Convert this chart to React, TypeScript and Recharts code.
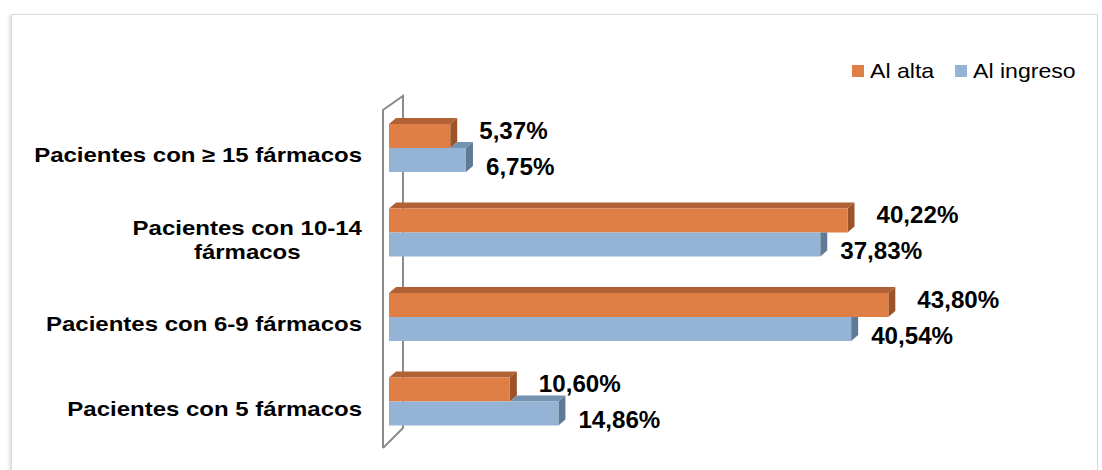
import { BarChart, Bar, XAxis, YAxis, LabelList } from 'recharts';

const categories = [
  'Pacientes con ≥ 15 fármacos',
  'Pacientes con 10-14 fármacos',
  'Pacientes con 6-9 fármacos',
  'Pacientes con 5 fármacos',
];
const alAlta = [5.37, 40.22, 43.8, 10.6];
const alIngreso = [6.75, 37.83, 40.54, 14.86];

const ALTA = { front: '#E07F45', top: '#B06236', side: '#9D5328' };
const INGRESO = { front: '#95B4D5', top: '#7393B0', side: '#5F7A94' };

const data = categories.map((name, i) => ({ name, alta: alAlta[i], ingreso: alIngreso[i] }));

const FONT = '"Liberation Sans", Arial, sans-serif';
const DX = 7;
const DY = 6;

const fmt = (v: number) => v.toFixed(2).replace('.', ',') + '%';

let ctx: CanvasRenderingContext2D | null = null;
function measure(text: string) {
  if (!ctx) ctx = document.createElement('canvas').getContext('2d');
  if (!ctx) return text.length * 12;
  ctx.font = `bold 20px ${FONT}`;
  return ctx.measureText(text).width * 1.2;
}

function wrap(text: string, max: number) {
  const words = text.split(' ');
  const lines: string[] = [];
  let cur = '';
  words.forEach(w => {
    const next = cur ? cur + ' ' + w : w;
    if (cur && measure(next) > max) {
      lines.push(cur);
      cur = w;
    } else cur = next;
  });
  if (cur) lines.push(cur);
  return lines;
}

function CategoryTick(props: any) {
  const { x, y, payload } = props;
  const lines = wrap(payload.value, 335);
  const cy = y + 7;
  if (lines.length === 1) {
    return (
      <g transform={`translate(${x},${cy}) scale(1.2,1)`}>
        <text textAnchor="end" dominantBaseline="central" fontFamily={FONT} fontWeight="bold" fontSize={20} fill="#000">
          {lines[0]}
        </text>
      </g>
    );
  }
  const w = Math.max(...lines.map(measure));
  const lh = 24;
  return (
    <g transform={`translate(${x - w / 2},${cy - ((lines.length - 1) * lh) / 2}) scale(1.2,1)`}>
      <text textAnchor="middle" dominantBaseline="central" fontFamily={FONT} fontWeight="bold" fontSize={20} fill="#000">
        {lines.map((l, i) => (
          <tspan key={i} x={0} y={i * lh}>{l}</tspan>
        ))}
      </text>
    </g>
  );
}

function AltaBar(p: any) {
  const { x, y, width: w, height: h } = p;
  return (
    <g>
      <polygon points={`${x},${y} ${x + DX},${y - DY} ${x + w + DX},${y - DY} ${x + w},${y}`} fill={ALTA.top} />
      <polygon points={`${x + w},${y} ${x + w + DX},${y - DY} ${x + w + DX},${y + h - DY} ${x + w},${y + h}`} fill={ALTA.side} />
      <rect x={x} y={y} width={w} height={h} fill={ALTA.front} />
    </g>
  );
}

// the orange bar sits above and in front, so hide whatever it would cover
function IngresoBar(p: any) {
  const { x, y, width: w, height: h, payload } = p;
  const oEnd = x + (payload.alta * w) / payload.ingreso;
  const bEnd = x + w;
  return (
    <g>
      {bEnd > oEnd ? (
        <>
          <polygon points={`${oEnd},${y} ${oEnd + DX},${y - DY} ${bEnd + DX},${y - DY} ${bEnd},${y}`} fill={INGRESO.top} />
          <polygon points={`${bEnd},${y} ${bEnd + DX},${y - DY} ${bEnd + DX},${y + h - DY} ${bEnd},${y + h}`} fill={INGRESO.side} />
        </>
      ) : (
        <polygon points={`${bEnd},${y} ${bEnd + DX},${y} ${bEnd + DX},${y + h - DY} ${bEnd},${y + h}`} fill={INGRESO.side} />
      )}
      <rect x={x} y={y} width={w} height={h} fill={INGRESO.front} />
    </g>
  );
}

const makeLabel = (dx: number, dy: number) => (p: any) => {
  const { x, y, width, height, value } = p;
  return (
    <g transform={`translate(${x + width + dx},${y + height / 2 + dy}) scale(1.05,1)`}>
      <text dominantBaseline="central" fontFamily={FONT} fontWeight="bold" fontSize={23} fill="#000">
        {fmt(value)}
      </text>
    </g>
  );
};

function LegendItem({ color, label }: { color: string; label: string }) {
  return (
    <span style={{ display: 'inline-flex', alignItems: 'center', marginRight: 27 }}>
      <span style={{ width: 12, height: 12, background: color, display: 'inline-block', marginRight: 6 }} />
      <span style={{ display: 'inline-block', transform: 'scaleX(1.1)', transformOrigin: 'left center', fontSize: 21 }}>
        {label}
      </span>
    </span>
  );
}

export default function App() {
  return (
    <div style={{ position: 'absolute', left: 0, top: 0, width: 1102, height: 470, background: '#fff', overflow: 'hidden', fontFamily: FONT }}>
      <div
        style={{
          position: 'absolute',
          left: 11,
          top: 14,
          width: 1085,
          height: 480,
          border: '1px solid #d9d9d9',
          boxShadow: '-2px 1px 3px rgba(0,0,0,0.12)',
        }}
      />
      <svg width={1102} height={470} style={{ position: 'absolute', left: 0, top: 0 }}>
        <polyline points="383,448 383,110 403,96 403,428 383,448" fill="none" stroke="#8c8c8c" strokeWidth={2} />
      </svg>
      <div style={{ position: 'absolute', left: 852, top: 59, whiteSpace: 'nowrap', lineHeight: '24px', color: '#000' }}>
        <LegendItem color={ALTA.front} label="Al alta" />
        <LegendItem color={INGRESO.front} label="Al ingreso" />
      </div>
      <div style={{ position: 'absolute', left: 0, top: 0 }}>
        <BarChart
          width={1102}
          height={470}
          data={data}
          layout="vertical"
          margin={{ top: 106, right: 143, bottom: 26, left: 0 }}
          barSize={24}
          barGap={0}
        >
          <XAxis type="number" domain={[0, 50]} hide />
          <YAxis
            type="category"
            dataKey="name"
            width={389}
            axisLine={false}
            tickLine={false}
            tickSize={0}
            tickMargin={27}
            tick={<CategoryTick />}
            interval={0}
          />
          <Bar dataKey="alta" name="Al alta" fill={ALTA.front} shape={<AltaBar />} isAnimationActive={false}>
            <LabelList dataKey="alta" content={makeLabel(29, -5)} />
          </Bar>
          <Bar dataKey="ingreso" name="Al ingreso" fill={INGRESO.front} shape={<IngresoBar />} isAnimationActive={false}>
            <LabelList dataKey="ingreso" content={makeLabel(20, 7)} />
          </Bar>
        </BarChart>
      </div>
    </div>
  );
}
